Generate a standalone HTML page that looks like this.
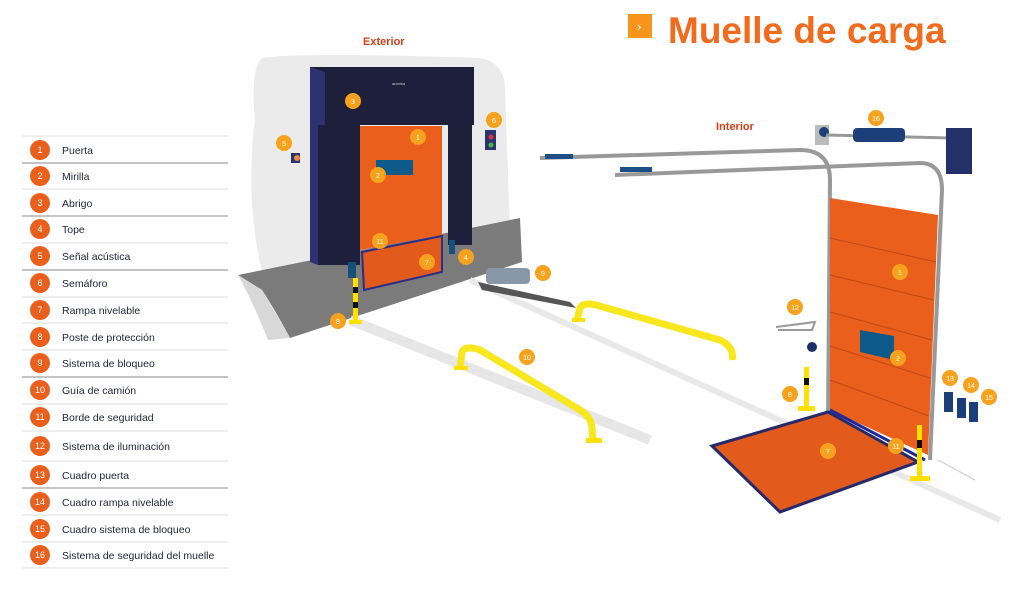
<!DOCTYPE html>
<html><head><meta charset="utf-8"><style>
html,body{margin:0;padding:0;background:#fff;}
body{width:1024px;height:584px;overflow:hidden;font-family:"Liberation Sans",sans-serif;}
</style></head><body>
<svg width="1024" height="584" viewBox="0 0 1024 584" xmlns="http://www.w3.org/2000/svg" font-family="Liberation Sans, sans-serif">
<!-- Title -->
<rect x="628" y="14" width="24" height="24" fill="#f7941d"/>
<text x="637" y="31" font-size="13" fill="#fff">›</text>
<text x="668" y="43" font-size="37" font-weight="bold" fill="#f26a1b">Muelle de carga</text>
<text x="363" y="45" font-size="11" font-weight="bold" fill="#d2401a">Exterior</text>
<text x="716" y="130" font-size="11" font-weight="bold" fill="#d2401a">Interior</text>

<!-- Legend -->
<g font-size="10.5" fill="#1f2233">
<line x1="22" y1="136" x2="228" y2="136" stroke="#ddd"/>
<g id="rows"></g>
</g>
<g font-size="10.5" fill="#1f2233">
<line x1="22" y1="163" x2="228" y2="163" stroke="#888"/><line x1="22" y1="189" x2="228" y2="189" stroke="#ddd"/>
<line x1="22" y1="216" x2="228" y2="216" stroke="#888"/><line x1="22" y1="243" x2="228" y2="243" stroke="#ddd"/>
<line x1="22" y1="270" x2="228" y2="270" stroke="#888"/><line x1="22" y1="297" x2="228" y2="297" stroke="#ddd"/>
<line x1="22" y1="323" x2="228" y2="323" stroke="#ddd"/><line x1="22" y1="350" x2="228" y2="350" stroke="#ddd"/>
<line x1="22" y1="377" x2="228" y2="377" stroke="#888"/><line x1="22" y1="404" x2="228" y2="404" stroke="#ddd"/>
<line x1="22" y1="431" x2="228" y2="431" stroke="#ddd"/><line x1="22" y1="461" x2="228" y2="461" stroke="#ddd"/>
<line x1="22" y1="488" x2="228" y2="488" stroke="#888"/><line x1="22" y1="515" x2="228" y2="515" stroke="#ddd"/>
<line x1="22" y1="542" x2="228" y2="542" stroke="#ddd"/><line x1="22" y1="568" x2="228" y2="568" stroke="#ddd"/>
<g fill="#ea5f1c">
<circle cx="40" cy="150" r="10"/><circle cx="40" cy="176" r="10"/><circle cx="40" cy="203" r="10"/><circle cx="40" cy="229" r="10"/>
<circle cx="40" cy="256" r="10"/><circle cx="40" cy="283" r="10"/><circle cx="40" cy="310" r="10"/><circle cx="40" cy="337" r="10"/>
<circle cx="40" cy="363" r="10"/><circle cx="40" cy="390" r="10"/><circle cx="40" cy="417" r="10"/><circle cx="40" cy="446" r="10"/>
<circle cx="40" cy="475" r="10"/><circle cx="40" cy="502" r="10"/><circle cx="40" cy="529" r="10"/><circle cx="40" cy="555" r="10"/>
</g>
<g fill="#fff" font-size="9" text-anchor="middle">
<text x="40" y="153">1</text><text x="40" y="179">2</text><text x="40" y="206">3</text><text x="40" y="232">4</text>
<text x="40" y="259">5</text><text x="40" y="286">6</text><text x="40" y="313">7</text><text x="40" y="340">8</text>
<text x="40" y="366">9</text><text x="40" y="393">10</text><text x="40" y="420">11</text><text x="40" y="449">12</text>
<text x="40" y="478">13</text><text x="40" y="505">14</text><text x="40" y="532">15</text><text x="40" y="558">16</text>
</g>
<text x="62" y="154">Puerta</text><text x="62" y="180">Mirilla</text><text x="62" y="207">Abrigo</text><text x="62" y="233">Tope</text>
<text x="62" y="260">Señal acústica</text><text x="62" y="287">Semáforo</text><text x="62" y="314">Rampa nivelable</text><text x="62" y="341">Poste de protección</text>
<text x="62" y="367">Sistema de bloqueo</text><text x="62" y="394">Guía de camión</text><text x="62" y="421">Borde de seguridad</text><text x="62" y="450">Sistema de iluminación</text>
<text x="62" y="479">Cuadro puerta</text><text x="62" y="506">Cuadro rampa nivelable</text><text x="62" y="533">Cuadro sistema de bloqueo</text><text x="62" y="559">Sistema de seguridad del muelle</text>
</g>

<!-- Exterior wall -->
<path d="M262 58 Q300 52 480 58 Q505 62 505 90 L510 230 L262 272 Q245 200 255 120 Q250 70 262 58Z" fill="#ebebeb"/>
<path d="M238 275 L520 218 L522 262 L290 338 Q275 310 262 290Z" fill="#7b7b7b"/>
<path d="M238 275 L262 290 L290 338 L268 340 Q252 300 238 275Z" fill="#d8d8d8"/>
<!-- floor lines -->
<path d="M350 320 L650 440" stroke="#e6e6e6" stroke-width="10"/>
<path d="M470 280 L1000 520" stroke="#e9e9e9" stroke-width="6"/>
<!-- shelter -->
<rect x="310" y="67" width="164" height="58" fill="#1e1f3a"/>
<path d="M310 67 L325 72 L325 125 L310 125Z" fill="#2e3270"/>
<rect x="318" y="125" width="42" height="140" fill="#1e1f3a"/>
<rect x="448" y="125" width="24" height="120" fill="#1e1f3a"/>
<path d="M310 125 L318 125 L318 265 L310 262Z" fill="#2e3270"/>
<polygon points="360,126 442,126 442,235 360,250" fill="#ea5f1c"/>
<rect x="376" y="160" width="37" height="15" fill="#0e5a8a"/>
<polygon points="362,252 442,236 442,272 364,290" fill="#e25a1c" stroke="#2b2e8a" stroke-width="2"/>
<rect x="348" y="262" width="8" height="16" fill="#15507a"/>
<rect x="449" y="240" width="6" height="14" fill="#15507a"/>
<text x="392" y="85" font-size="4" fill="#ccc">aranisa</text>
<!-- post 8 ext -->
<rect x="353" y="278" width="5" height="44" fill="#ffe000"/>
<rect x="353" y="287" width="5" height="6" fill="#111"/><rect x="353" y="302" width="5" height="6" fill="#111"/>
<rect x="349" y="320" width="13" height="4" fill="#ffe000"/>
<!-- signals -->
<rect x="291" y="153" width="9" height="10" fill="#2a3570"/><circle cx="297" cy="158" r="3" fill="#e84"/>
<rect x="485" y="130" width="11" height="20" fill="#2a3570"/><circle cx="491" cy="137" r="2.5" fill="#d33"/><circle cx="491" cy="145" r="2.5" fill="#4b4"/>
<!-- lock 9 -->
<polygon points="478,282 570,302 576,308 482,290" fill="#555"/>
<rect x="486" y="268" width="44" height="16" rx="4" fill="#8898a8"/>
<!-- guides -->
<path d="M460 368 L462 352 Q465 345 480 350 L580 410 Q592 418 592 428 L593 440" fill="none" stroke="#f8e71c" stroke-width="7"/>
<rect x="454" y="366" width="14" height="4" fill="#ffe000"/><rect x="586" y="438" width="16" height="5" fill="#ffe000"/>
<path d="M577 320 L580 308 Q583 302 596 305 L720 340 Q730 345 732 352 L733 360" fill="none" stroke="#f8e71c" stroke-width="7"/>
<rect x="572" y="318" width="13" height="4" fill="#ffe000"/>
<!-- interior rails -->
<path d="M540 158 L800 150 Q830 150 830 180 L828 420" fill="none" stroke="#999" stroke-width="4"/>
<path d="M615 175 L920 163 Q942 163 942 190 L930 460" fill="none" stroke="#999" stroke-width="4"/>
<rect x="545" y="154" width="28" height="5" fill="#1c4f85"/><rect x="620" y="167" width="32" height="5" fill="#1c4f85"/>
<!-- door interior -->
<polygon points="830,198 938,215 928,455 830,410" fill="#ea5f1c"/>
<g stroke="#c24a15" stroke-width="1">
<line x1="830" y1="238" x2="936" y2="262"/><line x1="830" y1="275" x2="934" y2="300"/>
<line x1="830" y1="312" x2="932" y2="340"/><line x1="830" y1="346" x2="930" y2="378"/><line x1="830" y1="380" x2="929" y2="416"/>
</g>
<polygon points="860,330 894,336 894,360 860,352" fill="#0e5a8a"/>
<!-- spring bar 16 -->
<rect x="815" y="125" width="14" height="20" fill="#bbb"/><circle cx="824" cy="132" r="5" fill="#1c3f7a"/>
<line x1="826" y1="135" x2="950" y2="138" stroke="#999" stroke-width="3"/>
<rect x="853" y="128" width="52" height="14" rx="4" fill="#1c3f7a"/>
<rect x="946" y="128" width="26" height="46" fill="#23306a"/>
<!-- ramp 7 -->
<polygon points="712,446 828,412 918,462 780,512" fill="#e25a1c" stroke="#26296a" stroke-width="3"/>
<line x1="830" y1="410" x2="925" y2="460" stroke="#1e2a9a" stroke-width="3"/>
<!-- posts -->
<rect x="804" y="367" width="5" height="40" fill="#ffe000"/><rect x="804" y="378" width="5" height="7" fill="#111"/>
<rect x="798" y="406" width="17" height="5" fill="#ffe000"/>
<rect x="917" y="425" width="5" height="52" fill="#ffe000"/><rect x="917" y="440" width="5" height="8" fill="#111"/>
<rect x="910" y="476" width="20" height="5" fill="#ffe000"/>
<!-- light 12 -->
<path d="M776 327 L815 322 L812 330 L778 330" fill="none" stroke="#999" stroke-width="2"/>
<circle cx="812" cy="347" r="5" fill="#1c2f6a"/>
<!-- boxes 13-15 -->
<rect x="944" y="392" width="9" height="20" fill="#1c3f7a"/><rect x="957" y="398" width="9" height="20" fill="#1c3f7a"/><rect x="969" y="402" width="9" height="20" fill="#1c3f7a"/>
<path d="M938 460 L975 480" stroke="#ccc"/>
<!-- markers -->
<g fill="#f7a21c">
<circle cx="353" cy="101" r="8"/><circle cx="418" cy="137" r="8"/><circle cx="378" cy="175" r="8"/><circle cx="380" cy="241" r="8"/>
<circle cx="427" cy="262" r="8"/><circle cx="466" cy="257" r="8"/><circle cx="284" cy="143" r="8"/><circle cx="494" cy="120" r="8"/>
<circle cx="338" cy="321" r="8"/><circle cx="543" cy="273" r="8"/><circle cx="527" cy="357" r="8"/>
<circle cx="876" cy="118" r="8"/><circle cx="900" cy="272" r="8"/><circle cx="898" cy="358" r="8"/><circle cx="795" cy="307" r="8"/>
<circle cx="790" cy="394" r="8"/><circle cx="828" cy="451" r="8"/><circle cx="896" cy="446" r="8"/>
<circle cx="950" cy="378" r="8"/><circle cx="971" cy="385" r="8"/><circle cx="989" cy="397" r="8"/>
</g>
<g fill="#fff" font-size="7" text-anchor="middle">
<text x="353" y="104">3</text><text x="418" y="140">1</text><text x="378" y="178">2</text><text x="380" y="244">11</text>
<text x="427" y="265">7</text><text x="466" y="260">4</text><text x="284" y="146">5</text><text x="494" y="123">6</text>
<text x="338" y="324">8</text><text x="543" y="276">9</text><text x="527" y="360">10</text>
<text x="876" y="121">16</text><text x="900" y="275">1</text><text x="898" y="361">2</text><text x="795" y="310">12</text>
<text x="790" y="397">8</text><text x="828" y="454">7</text><text x="896" y="449">11</text>
<text x="950" y="381">13</text><text x="971" y="388">14</text><text x="989" y="400">15</text>
</g>
</svg>
</body></html>
